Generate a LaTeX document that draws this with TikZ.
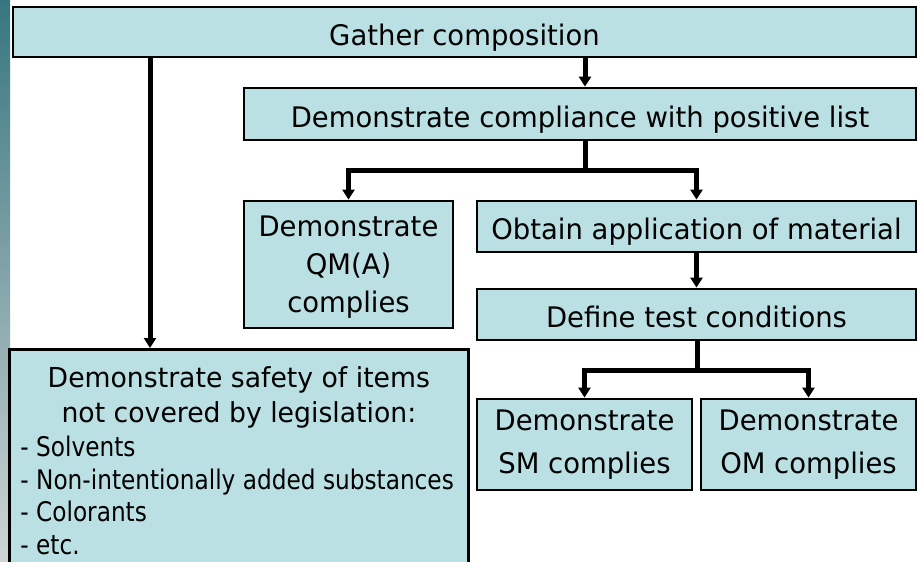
\documentclass[tikz,border=0pt]{standalone}
\usepackage{fontspec}
\setmainfont{DejaVu Sans}[FakeStretch=0.97]
\newfontfamily\listfont{DejaVu Sans}[FakeStretch=0.86]
\usetikzlibrary{arrows.meta}
\definecolor{boxfill}{RGB}{187,224,227}
\definecolor{stripTop}{RGB}{55,118,128}
\definecolor{stripBot}{RGB}{208,212,212}
\begin{document}
\begin{tikzpicture}[x=1pt,y=-1pt,
  box/.style={draw=black, line width=2.8pt, fill=boxfill, inner sep=0pt,
    font=\fontsize{28.3}{38}\selectfont, text=black},
  one/.style={text height=26pt, text depth=0pt},
  conn/.style={line width=5pt},
  arr/.style={line width=5pt, -{Triangle[width=12pt,length=10pt]}}]
\useasboundingbox (0,0) rectangle (918,562);
\fill[top color=stripTop, bottom color=stripBot] (0,0) rectangle (10,562);

\node[box, one, minimum width=903pt, minimum height=50pt] (gather) at (464.5,32) {Gather composition};
\node[box, one, minimum width=672pt, minimum height=52pt] (pos) at (580,114) {Demonstrate compliance with positive list};
\node[box, align=center, text depth=-4pt, minimum width=209pt, minimum height=127pt] (qm) at (348.5,264.5) {Demonstrate\\QM(A)\\complies};
\node[box, one, minimum width=439pt, minimum height=51pt] (obtain) at (696.5,226.5) {Obtain application of material};
\node[box, one, minimum width=439pt, minimum height=51pt] (define) at (696.5,314.5) {Define test conditions};
\node[box, align=center, font=\fontsize{28.3}{43}\selectfont, minimum width=215pt, minimum height=91pt] (sm) at (584.5,444.5) {Demonstrate\\SM complies};
\node[box, align=center, font=\fontsize{28.3}{43}\selectfont, minimum width=215pt, minimum height=91pt] (om) at (808.5,444.5) {Demonstrate\\OM complies};
\node[box, anchor=north west, minimum width=459pt, minimum height=228pt] (safety) at (8,348)
 {\begin{minipage}[t][228pt][t]{437pt}\vspace*{17pt}%
  \fontsize{27.5}{35}\selectfont\centering Demonstrate safety of items\\
  not covered by legislation:\par
  \listfont\fontsize{27}{32.5}\selectfont\raggedright\vspace{2pt}%
  - Solvents\\
  - Non-intentionally added substances\\
  - Colorants\\
  - etc.\par
  \end{minipage}};

\coordinate (lx) at (150,0);
\coordinate (gx) at (585,0);
\coordinate (b1) at (585,170);
\coordinate (b2) at (697,370);

\draw[arr] (gather.south -| lx) -- (safety.north -| lx);
\draw[arr] (gather.south -| gx) -- (pos.north -| gx);
\draw[conn] (pos.south -| b1) -- (b1);
\draw[arr] (b1) -| (qm.north);
\draw[arr] (b1) -| (obtain.north);
\draw[arr] (obtain.south) -- (define.north);
\draw[conn] (define.south -| b2) -- (b2);
\draw[arr] (b2) -| (sm.north);
\draw[arr] (b2) -| (om.north);
\end{tikzpicture}
\end{document}
